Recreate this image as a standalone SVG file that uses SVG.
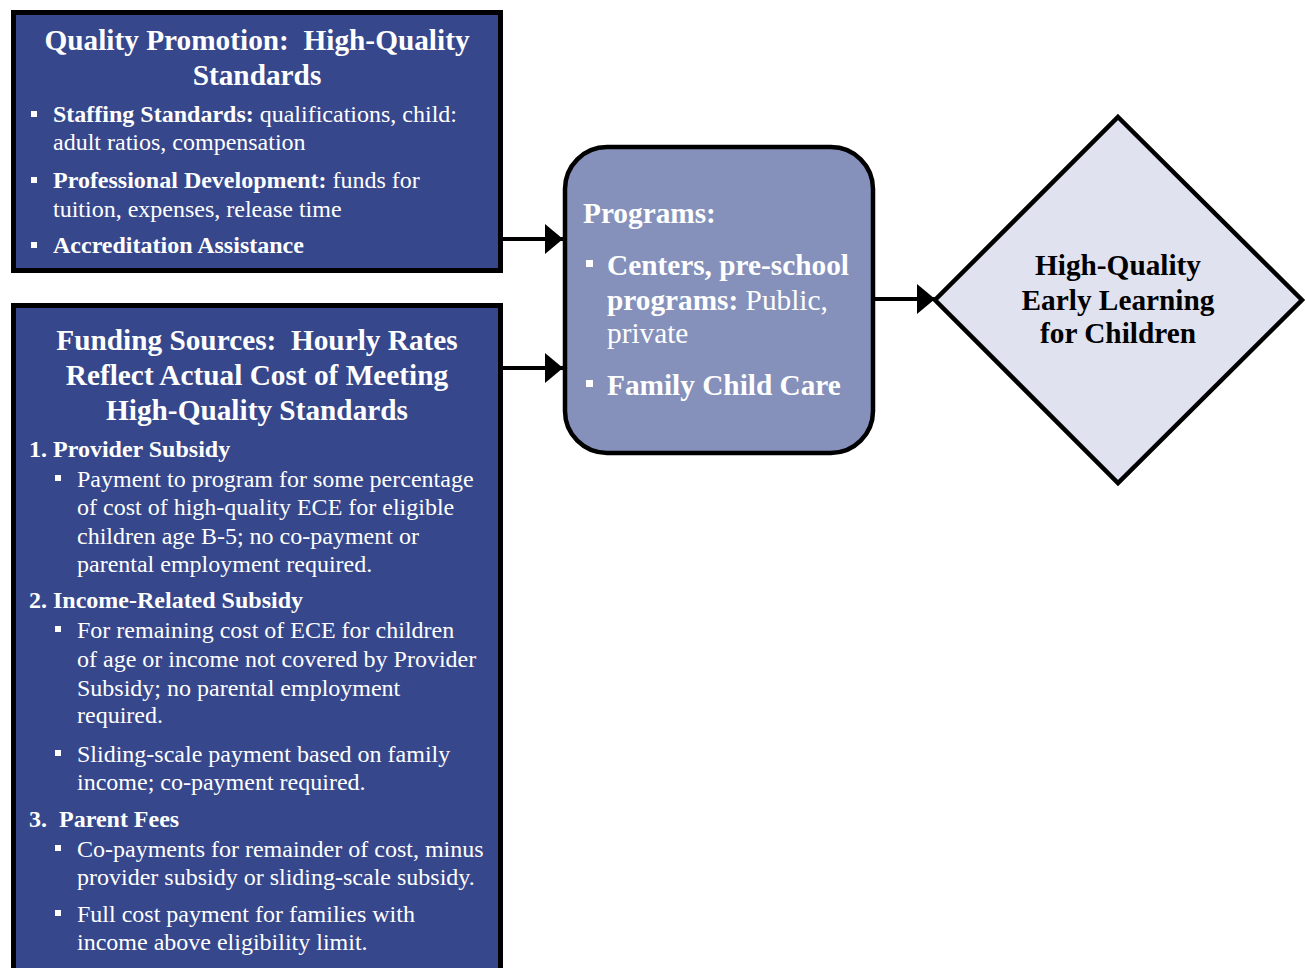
<svg xmlns="http://www.w3.org/2000/svg" width="1306" height="968" viewBox="0 0 1306 968">
<style>
.box{fill:#36478c;stroke:#000;stroke-width:5}
.prog{fill:#8591bb;stroke:#000;stroke-width:4.5}
.dia{fill:#e0e2ef;stroke:#000;stroke-width:4.5}
.t{font-family:"Liberation Serif","Times New Roman",serif;fill:#fff}
.title{font-size:29.3px;font-weight:bold;text-anchor:middle}
.body{font-size:24px}
.b{font-weight:bold}
.pt{font-size:29.3px}
.dt{font-family:"Liberation Serif","Times New Roman",serif;font-size:29.3px;font-weight:bold;fill:#000;text-anchor:middle}
.bul{fill:#fff}
.conn{stroke:#000;stroke-width:4;fill:none}
</style>
<defs>
<marker id="ah" markerWidth="18" markerHeight="30" refX="18" refY="15" orient="auto" markerUnits="userSpaceOnUse">
<path d="M0,0 L18,15 L0,30 Z" fill="#000"/>
</marker>
</defs>
<rect width="1306" height="968" fill="#fff"/>
<g id="connectors">
<line class="conn" x1="502" y1="239" x2="563" y2="239" marker-end="url(#ah)"/>
<line class="conn" x1="502" y1="368" x2="563" y2="368" marker-end="url(#ah)"/>
<line class="conn" x1="874" y1="299" x2="935" y2="299" marker-end="url(#ah)"/>
</g>
<g id="quality-promotion">
<rect class="box" x="13.5" y="12.5" width="487" height="258"/>
<text class="t title" x="257" y="50" xml:space="preserve">Quality Promotion:  High-Quality</text>
<text class="t title" x="257" y="85">Standards</text>
<rect class="bul" x="31" y="111" width="6" height="6"/>
<text class="t body" x="53" y="122"><tspan class="b">Staffing Standards:</tspan> qualifications, child:</text>
<text class="t body" x="53" y="150">adult ratios, compensation</text>
<rect class="bul" x="31" y="177" width="6" height="6"/>
<text class="t body" x="53" y="188"><tspan class="b">Professional Development:</tspan> funds for</text>
<text class="t body" x="53" y="217">tuition, expenses, release time</text>
<rect class="bul" x="31" y="242" width="6" height="6"/>
<text class="t body b" x="53" y="253">Accreditation Assistance</text>
</g>
<g id="funding-sources">
<rect class="box" x="13.5" y="305.5" width="487" height="680"/>
<text class="t title" x="257" y="350" xml:space="preserve">Funding Sources:  Hourly Rates</text>
<text class="t title" x="257" y="385">Reflect Actual Cost of Meeting</text>
<text class="t title" x="257" y="420">High-Quality Standards</text>
<text class="t body b" x="29" y="457">1. Provider Subsidy</text>
<rect class="bul" x="55" y="475" width="6" height="6"/>
<text class="t body" x="77" y="487">Payment to program for some percentage</text>
<text class="t body" x="77" y="515">of cost of high-quality ECE for eligible</text>
<text class="t body" x="77" y="544">children age B-5; no co-payment or</text>
<text class="t body" x="77" y="572">parental employment required.</text>
<text class="t body b" x="29" y="608">2. Income-Related Subsidy</text>
<rect class="bul" x="55" y="626" width="6" height="6"/>
<text class="t body" x="77" y="638">For remaining cost of ECE for children</text>
<text class="t body" x="77" y="667">of age or income not covered by Provider</text>
<text class="t body" x="77" y="696">Subsidy; no parental employment</text>
<text class="t body" x="77" y="723">required.</text>
<rect class="bul" x="55" y="750" width="6" height="6"/>
<text class="t body" x="77" y="762">Sliding-scale payment based on family</text>
<text class="t body" x="77" y="790">income; co-payment required.</text>
<text class="t body b" x="29" y="827" xml:space="preserve">3.  Parent Fees</text>
<rect class="bul" x="55" y="845" width="6" height="6"/>
<text class="t body" x="77" y="857">Co-payments for remainder of cost, minus</text>
<text class="t body" x="77" y="885">provider subsidy or sliding-scale subsidy.</text>
<rect class="bul" x="55" y="910" width="6" height="6"/>
<text class="t body" x="77" y="922">Full cost payment for families with</text>
<text class="t body" x="77" y="950">income above eligibility limit.</text>
</g>
<g id="programs">
<rect class="prog" x="565" y="147" width="308" height="306" rx="42" ry="42"/>
<text class="t pt b" x="583" y="223">Programs:</text>
<rect class="bul" x="586" y="260" width="7" height="7"/>
<text class="t pt" x="607" y="275"><tspan class="b">Centers, pre-school</tspan></text>
<text class="t pt" x="607" y="310"><tspan class="b">programs:</tspan> Public,</text>
<text class="t pt" x="607" y="343">private</text>
<rect class="bul" x="586" y="380" width="7" height="7"/>
<text class="t pt b" x="607" y="395">Family Child Care</text>
</g>
<g id="outcome">
<polygon class="dia" points="1118,117 1302,300 1118,483 935,300"/>
<text class="dt" x="1118" y="275">High-Quality</text>
<text class="dt" x="1118" y="310">Early Learning</text>
<text class="dt" x="1118" y="343">for Children</text>
</g>
</svg>
